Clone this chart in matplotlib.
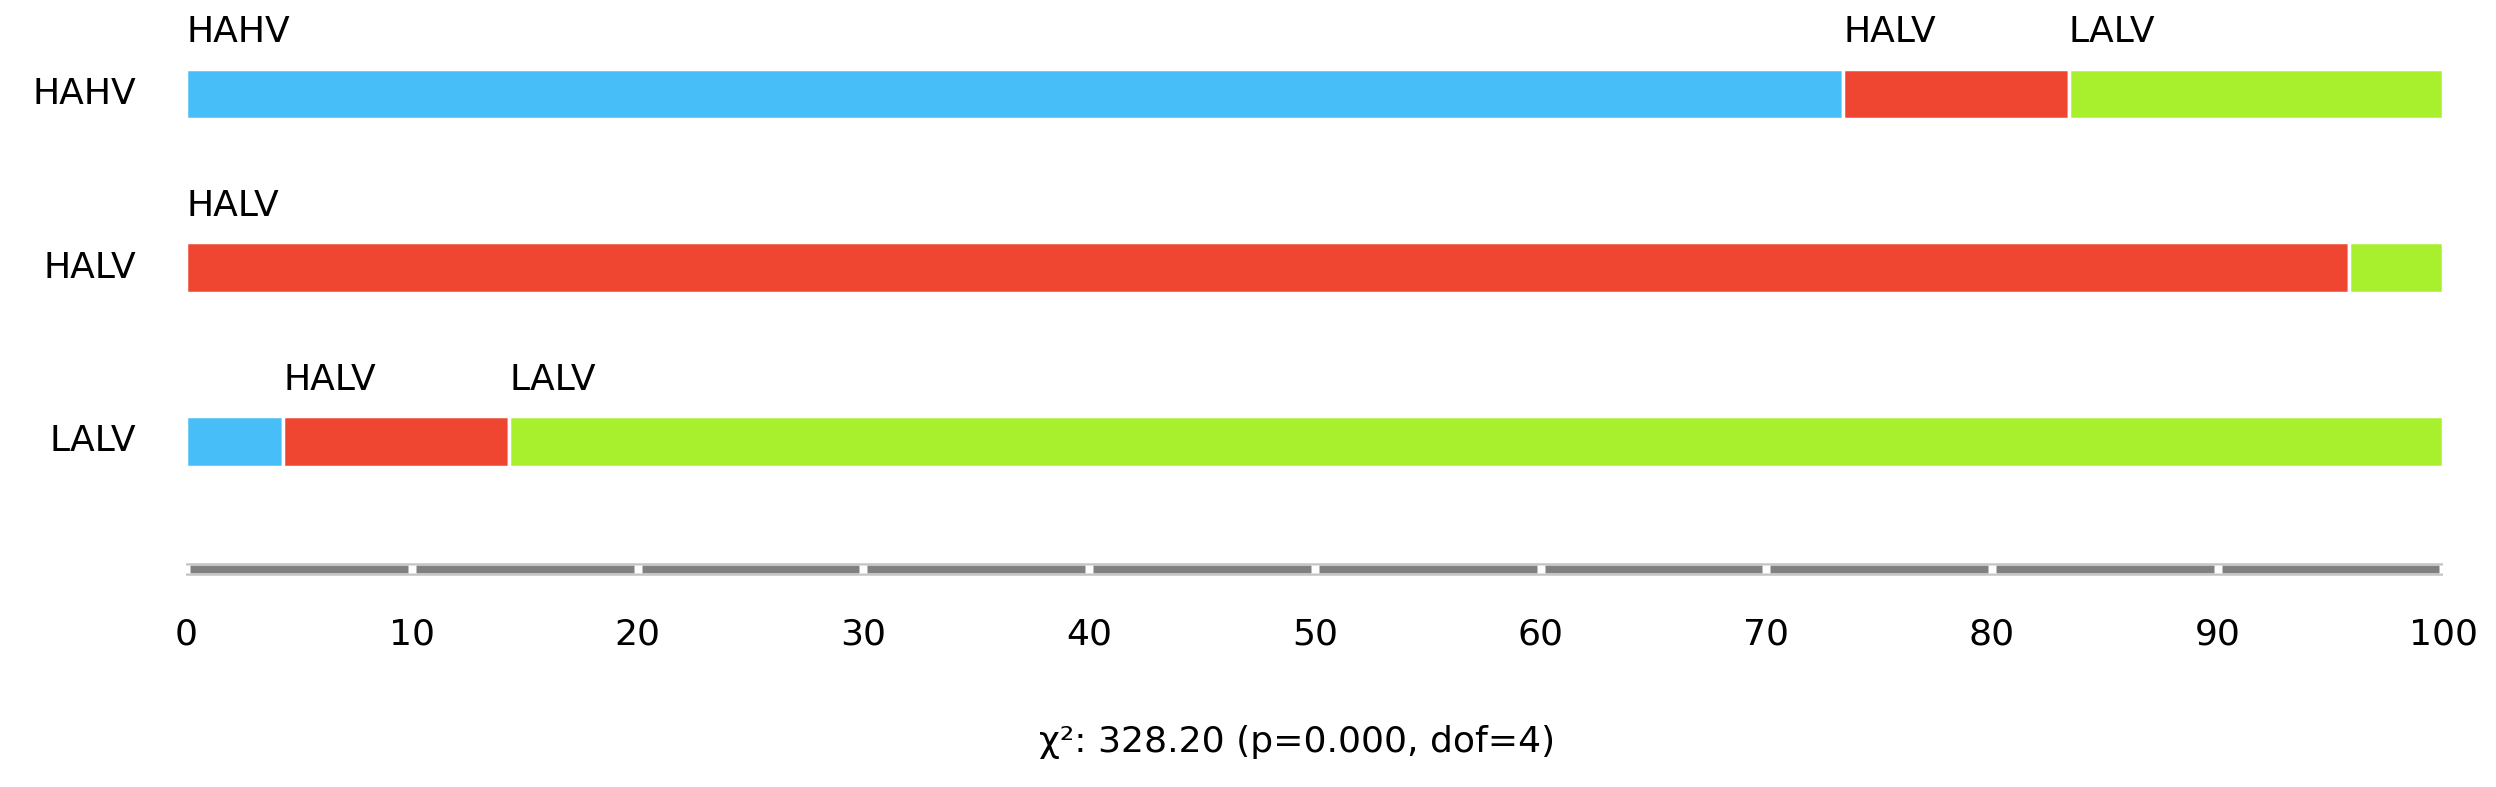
import matplotlib
matplotlib.use("Agg")
import matplotlib.pyplot as plt

rows = ["HAHV", "HALV", "LALV"]
groups = ["HAHV", "HALV", "LALV"]
colors = ["#47BEF8", "#EE4630", "#A8F02E"]
# percentages per row, split by group
values = [
    [73.4, 10.0, 16.6],
    [0.0, 95.8, 4.2],
    [4.3, 10.0, 85.7],
]
ticks = [0, 10, 20, 30, 40, 50, 60, 70, 80, 90, 100]
stat_text = "χ²: 328.20 (p=0.000, dof=4)"

W, H = 1568, 494
x0, x1 = 117, 1535
fig = plt.figure(figsize=(24.96, 7.87), dpi=100)
ax = fig.add_axes([x0 / W, 0, (x1 - x0) / W, 1])
ax.set_xlim(0, 100)
ax.set_ylim(H, 0)
ax.axis("off")

fs = 26
row_y = [59, 168, 277]
bar_h = 32
for r, (name, vals) in enumerate(zip(rows, values)):
    y = row_y[r]
    ax.text(-2.2, y, name, ha="right", va="center", fontsize=fs)
    left = 0
    for g, v in enumerate(vals):
        if v <= 0:
            continue
        ax.barh(y, v, left=left, height=bar_h, color=colors[g],
                edgecolor="white", linewidth=2.5)
        if v >= 8:
            ax.text(left, y - 28, groups[g], ha="left", va="bottom", fontsize=fs)
        left += v

# axis bar
ay = 357
ax.plot([-0.4, 100.4], [ay, ay], color="#C4C4C4", lw=9, solid_capstyle="butt")
ax.plot([0, 100], [ay, ay], color="#808080", lw=5, solid_capstyle="butt")
ax.plot(ticks, [ay] * len(ticks), "s", color="white", ms=5.5, mec="none")
for t in ticks:
    ax.text(t, 398, str(t), ha="center", va="center", fontsize=fs)
ax.text(49.2, 466, stat_text, ha="center", va="center", fontsize=fs)

fig.savefig("out.png", dpi=100)
